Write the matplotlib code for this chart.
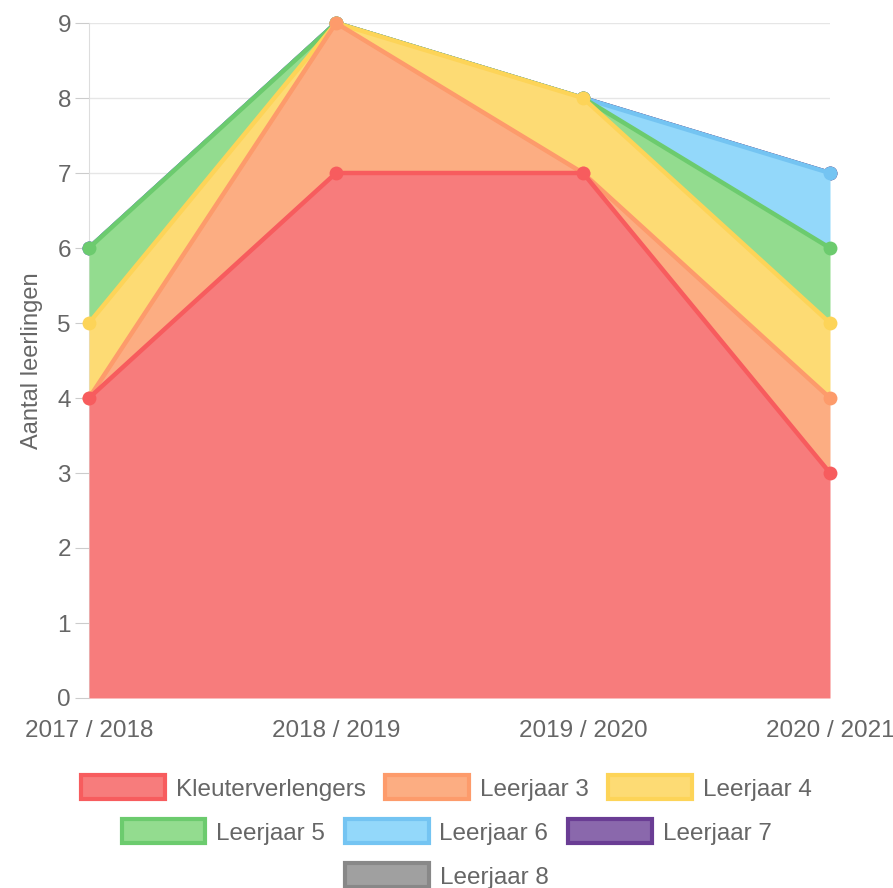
import matplotlib
matplotlib.use("Agg")
import matplotlib.pyplot as plt
from matplotlib.patches import Rectangle
import numpy as np

plt.rcParams['font.family'] = ['Liberation Sans', 'DejaVu Sans']

years = ["2017 / 2018", "2018 / 2019", "2019 / 2020", "2020 / 2021"]
series_names = ["Kleuterverlengers", "Leerjaar 3", "Leerjaar 4", "Leerjaar 5",
                "Leerjaar 6", "Leerjaar 7", "Leerjaar 8"]
kleuterverlengers = [4, 7, 7, 3]
leerjaar3 = [0, 2, 0, 1]
leerjaar4 = [1, 0, 1, 1]
leerjaar5 = [1, 0, 0, 1]
leerjaar6 = [0, 0, 0, 1]
leerjaar7 = [0, 0, 0, 0]
leerjaar8 = [0, 0, 0, 0]
yticks = [0, 1, 2, 3, 4, 5, 6, 7, 8, 9]
ylabel = "Aantal leerlingen"

values = [kleuterverlengers, leerjaar3, leerjaar4, leerjaar5, leerjaar6, leerjaar7, leerjaar8]
line_colors = ["#f75c5e", "#fd9b6b", "#fdd458", "#6ccb6e", "#74c4f2", "#6a3d94", "#888888"]
fill_colors = ["#f77c7c", "#fcad82", "#fddb74", "#93dc8f", "#93d8fa", "#8a68ac", "#a0a0a0"]

W, H = 893, 888
fig = plt.figure(figsize=(W / 100, H / 100), dpi=100)
ax = fig.add_axes([89 / W, 1 - 698 / H, (830 - 89) / W, (698 - 23) / H])

x = np.arange(len(years))
cum = np.zeros(len(years))
bottoms, tops = [], []
for v in values:
    bottoms.append(cum.copy())
    cum = cum + np.array(v, dtype=float)
    tops.append(cum.copy())

n = len(values)
for i in range(n - 1, -1, -1):
    z = 2 + (n - i) * 2
    ax.fill_between(x, bottoms[i], tops[i], color=fill_colors[i], linewidth=0, zorder=z)
    ax.plot(x, tops[i], color=line_colors[i], linewidth=3.2, marker='o',
            markersize=10, markerfacecolor=line_colors[i], markeredgewidth=0,
            zorder=z + 1, solid_joinstyle='round', clip_on=False)

ax.set_xlim(0, 3)
ax.set_ylim(0, 9)
ax.set_xticks(x)
ax.set_xticklabels(years)
ax.set_yticks(yticks)
ax.grid(axis='y', color='#e6e6e6', linewidth=1, zorder=0)
for s in ['top', 'right', 'bottom']:
    ax.spines[s].set_visible(False)
ax.spines['left'].set_color('#dddddd')
ax.tick_params(axis='y', length=10, color='#cccccc', labelsize=17.5, labelcolor='#666666', pad=3)
ax.tick_params(axis='x', length=0, labelsize=17.5, labelcolor='#666666', pad=16)
ax.set_ylabel(ylabel, fontsize=17, color='#666666', labelpad=10)

# Legend rows
rows = [[0, 1, 2], [3, 4, 5], [6]]
row_y = [788, 832, 876]
for r, yy in zip(rows, row_y):
    handles = [Rectangle((0, 0), 1, 1, facecolor=fill_colors[i], edgecolor=line_colors[i],
                         linewidth=3) for i in r]
    labels = [series_names[i] for i in r]
    fig.legend(handles, labels, loc='center', bbox_to_anchor=(0.5, 1 - yy / H),
               ncol=len(r), frameon=False, fontsize=17.5, handlelength=3.45,
               handleheight=1.15, handletextpad=0.45, columnspacing=0.8,
               labelcolor='#666666', borderpad=0, borderaxespad=0)

fig.savefig("out.png", dpi=100)
